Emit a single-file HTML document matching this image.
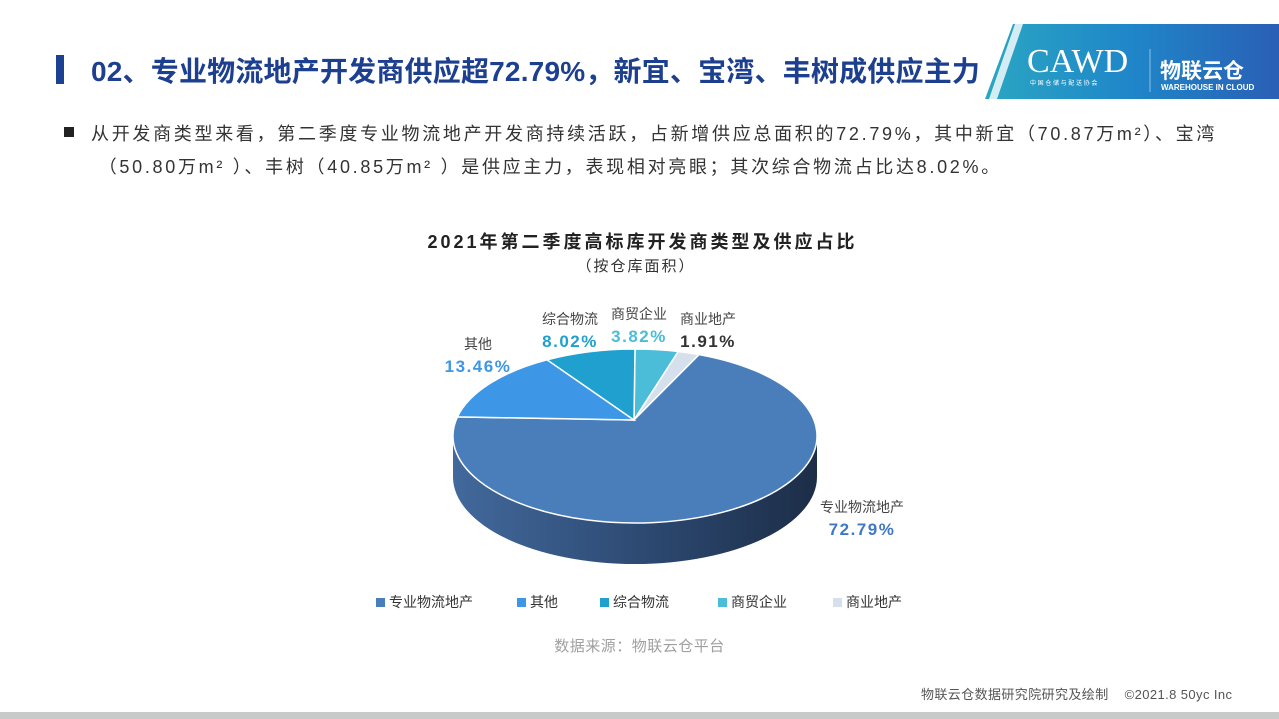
<!DOCTYPE html>
<html><head><meta charset="utf-8"><style>
body{margin:0;width:1279px;height:719px;position:relative;overflow:hidden;background:#fff;font-family:"Liberation Sans","Noto Sans CJK SC",sans-serif;}
.abs{position:absolute;white-space:nowrap;}
</style></head><body>
<div class="abs" style="left:56px;top:55px;width:8px;height:29px;background:#1d4192"></div>
<div class="abs" style="left:91px;top:50px;font-size:28px;font-weight:bold;color:#1d3f8f;letter-spacing:0.2px">02、专业物流地产开发商供应超72.79%，新宜、宝湾、丰树成供应主力</div>
<svg class="abs" style="left:985px;top:24px" width="294" height="75">
<defs><linearGradient id="lg" x1="0" x2="1"><stop offset="0" stop-color="#2aa6c2"/><stop offset="0.5" stop-color="#1f86c9"/><stop offset="1" stop-color="#2a5fb5"/></linearGradient></defs>
<polygon points="28,0 294,0 294,75 0,75" fill="url(#lg)"/>
<polygon points="30,0 38,0 12,75 4,75" fill="#fff" opacity="0.8"/>
<text x="42" y="48" font-size="34" fill="#fff" font-family="Liberation Serif">CAWD</text>
<text x="45" y="61" font-size="6" fill="#fff">中 国 仓 储 与 配 送 协 会</text>
<line x1="165" y1="25" x2="165" y2="68" stroke="#fff" opacity="0.5"/>
<text x="175" y="54" font-size="21" font-weight="bold" fill="#fff">物联云仓</text>
<text x="176" y="66" font-size="8" font-weight="bold" fill="#fff">WAREHOUSE IN CLOUD</text>
</svg>
<div class="abs" style="left:64px;top:127px;width:10px;height:10px;background:#222"></div>
<div class="abs" style="left:91px;top:118px;font-size:18px;color:#333;line-height:33px;letter-spacing:2.7px">从开发商类型来看，第二季度专业物流地产开发商持续活跃，占新增供应总面积的72.79%，其中新宜（70.87万m²）、宝湾<br>&nbsp;（50.80万m²&nbsp;）、丰树（40.85万m²&nbsp;）是供应主力，表现相对亮眼；其次综合物流占比达8.02%。</div>
<div class="abs" style="left:0;width:1285px;text-align:center;top:228px;font-size:18px;font-weight:bold;color:#222;letter-spacing:3px">2021年第二季度高标库开发商类型及供应占比</div>
<div class="abs" style="left:0;width:1272px;text-align:center;top:255px;font-size:15px;color:#333;letter-spacing:2px">（按仓库面积）</div>
<svg id="pie" class="abs" style="left:0;top:0" width="1279" height="719"></svg>
<div class="abs" style="left:376px;top:592px;font-size:14px;color:#333" id="legend"></div>
<div class="abs" style="left:0;width:1279px;text-align:center;top:635px;font-size:15px;color:#a0a0a0;letter-spacing:0.5px">数据来源：物联云仓平台</div>
<div class="abs" style="left:921px;top:684px;font-size:13px;color:#555;letter-spacing:0.4px">物联云仓数据研究院研究及绘制&nbsp;&nbsp;&nbsp;&nbsp;©2021.8 50yc Inc</div>
<div class="abs" style="left:0;top:712px;width:1279px;height:7px;background:#c8c9c9"></div>
<script>
const categories=["商贸企业","商业地产","专业物流地产","其他","综合物流"];
const values=[3.82,1.91,72.79,13.46,8.02];
const colors=["#4bbdd8","#d6e0ec","#4a7ebb","#3d97e6","#1fa0cf"];
const labelPos=[[639,319],[708,324],[862,512],[478,349],[570,324]];
const legendOrder=[2,3,4,0,1];
const NS="http://www.w3.org/2000/svg";
const svg=document.getElementById('pie');
const cx=635,cy=436,rx=182,ry=87,ax=634,ay=420,depth=41;
function pt(f){const a=f*2*Math.PI;return [cx+rx*Math.sin(a),cy-ry*Math.cos(a)];}
const total=values.reduce((a,b)=>a+b,0);
const defs=document.createElementNS(NS,'defs');
defs.innerHTML='<linearGradient id="sg" x1="0" x2="1"><stop offset="0" stop-color="#42699c"/><stop offset="0.5" stop-color="#2e4b74"/><stop offset="1" stop-color="#1c2d47"/></linearGradient>';
svg.appendChild(defs);
const side=document.createElementNS(NS,'path');


side.setAttribute('d',`M${cx-rx},${cy} A${rx},${ry} 0 0 0 ${cx+rx},${cy} L${cx+rx},${cy+depth} A${rx},${ry} 0 0 1 ${cx-rx},${cy+depth} Z`);
side.setAttribute('fill','url(#sg)');
svg.appendChild(side);
let acc=0;
values.forEach((v,i)=>{
  const f0=acc/total,f1=(acc+v)/total;acc+=v;
  const p0=pt(f0),p1=pt(f1);
  const large=(f1-f0)>0.5?1:0;
  const p=document.createElementNS(NS,'path');
  
  
  p.setAttribute('d',`M${ax},${ay} L${p0[0]},${p0[1]} A${rx},${ry} 0 ${large} 1 ${p1[0]},${p1[1]} Z`);
  p.setAttribute('fill',colors[i]);
  p.setAttribute('stroke','#fff');
  p.setAttribute('stroke-width','1.5');
  svg.appendChild(p);
  const t=document.createElementNS(NS,'text');
  
  
  t.setAttribute('x',labelPos[i][0]);t.setAttribute('y',labelPos[i][1]);
  t.setAttribute('text-anchor','middle');t.setAttribute('font-size','14');t.setAttribute('fill','#444');
  t.textContent=categories[i];
  svg.appendChild(t);
  const t2=document.createElementNS(NS,'text');
  
  
  t2.setAttribute('x',labelPos[i][0]);t2.setAttribute('y',labelPos[i][1]+23);
  t2.setAttribute('text-anchor','middle');t2.setAttribute('font-size','17');t2.setAttribute('font-weight','bold');
  t2.setAttribute('letter-spacing','1.5');
  t2.setAttribute('fill',i==1?'#333':(i==2?'#3f78c4':colors[i]));
  t2.textContent=values[i].toFixed(2)+'%';
  svg.appendChild(t2);
});
const lg=document.getElementById('legend');
const gaps=[0,44,42,49,46];
legendOrder.forEach((i,k)=>{
  const s=document.createElement('span');
  
  
  s.style.marginLeft=gaps[k]+'px';
  s.innerHTML=`<span style="display:inline-block;width:9px;height:9px;background:${colors[i]};margin-right:4px"></span>${categories[i]}`;
  lg.appendChild(s);
});
</script>
</body></html>
